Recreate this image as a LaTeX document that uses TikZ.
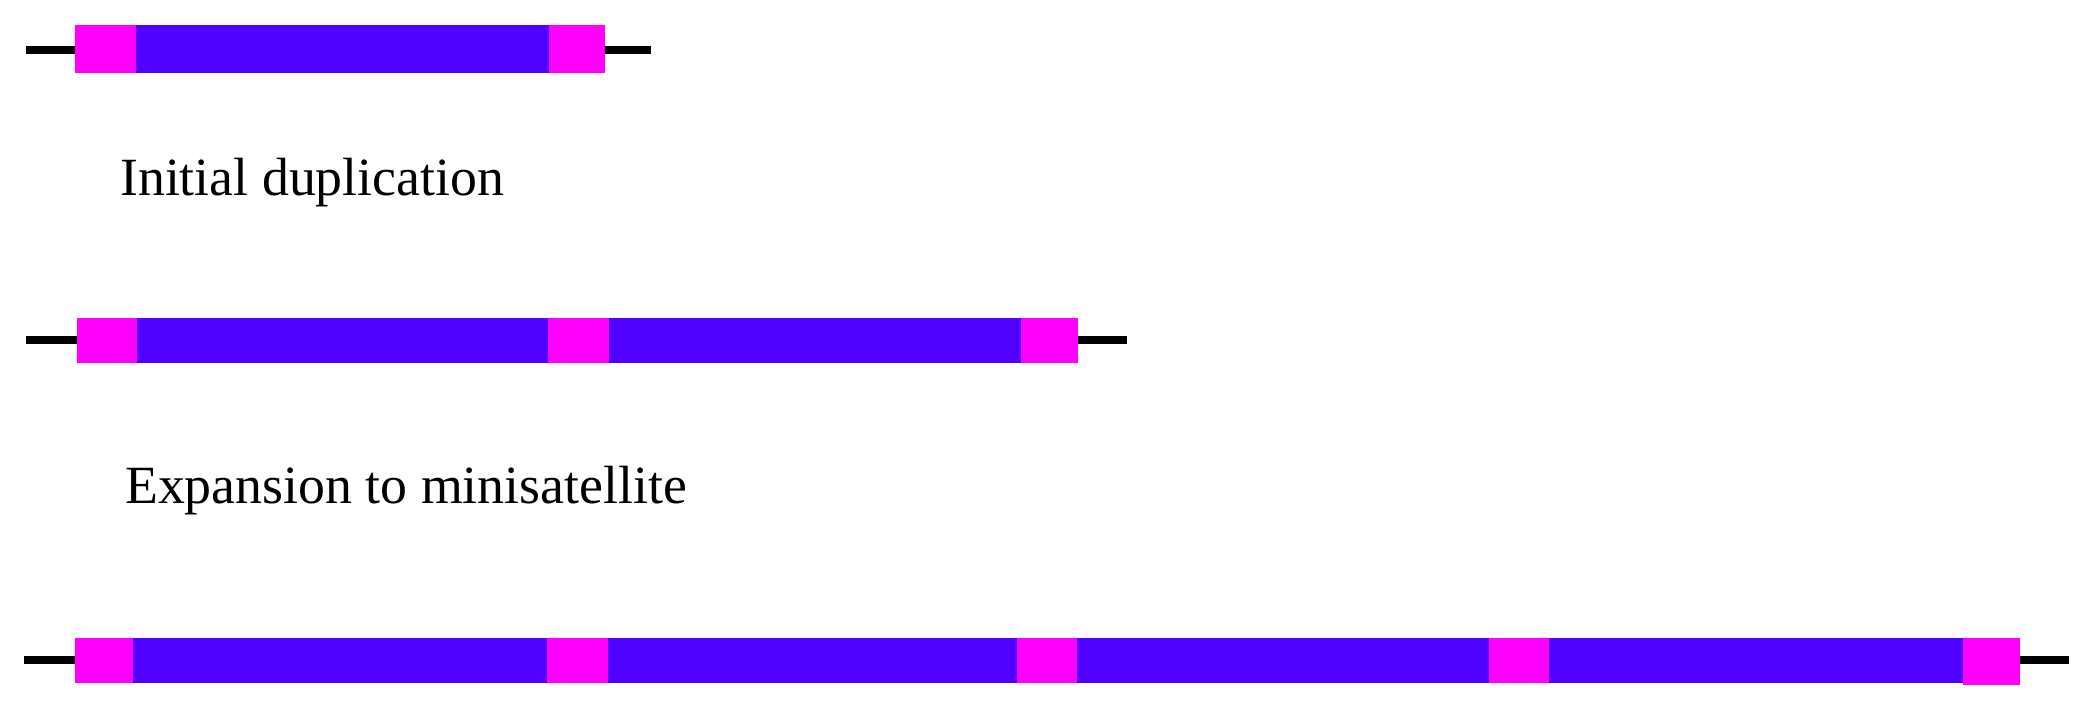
\documentclass[tikz,border=0pt]{standalone}
\usepackage{fontspec}
\setmainfont{Liberation Serif}
\definecolor{flank}{RGB}{255,0,255}
\definecolor{unit}{RGB}{80,0,255}
\tikzset{
  x=1pt, y=-1pt,
  dnaline/.style={line width=8pt, black},
  pinkbox/.style={fill=flank},
  bluebox/.style={fill=unit},
  lbl/.style={anchor=base west, inner sep=0pt, font=\fontsize{53.8}{60}\selectfont}
}
\begin{document}
\begin{tikzpicture}
\useasboundingbox (0,0) rectangle (2091,711);
% Row 1
\draw[dnaline] (26,50) -- (651,50);
\fill[pinkbox] (75,25) rectangle (136,73);
\fill[bluebox] (136,25) rectangle (549,73);
\fill[pinkbox] (549,25) rectangle (605,73);
\node[lbl] (t1) at (120,196) {Initial duplication};
% Row 2
\draw[dnaline] (26,340) -- (1127,340);
\fill[pinkbox] (77,318) rectangle (137,363);
\fill[bluebox] (137,318) rectangle (548,363);
\fill[pinkbox] (548,318) rectangle (609,363);
\fill[bluebox] (609,318) rectangle (1021,363);
\fill[pinkbox] (1021,318) rectangle (1078,363);
\node[lbl] (t2) at (125,503) {Expansion to minisatellite};
% Row 3
\draw[dnaline] (24,660) -- (2069,660);
\fill[pinkbox] (75,638) rectangle (133,683);
\fill[bluebox] (133,638) rectangle (547,683);
\fill[pinkbox] (547,638) rectangle (608,683);
\fill[bluebox] (608,638) rectangle (1017,683);
\fill[pinkbox] (1017,638) rectangle (1077,683);
\fill[bluebox] (1077,638) rectangle (1489,683);
\fill[pinkbox] (1489,638) rectangle (1549,683);
\fill[bluebox] (1549,638) rectangle (1963,683);
\fill[pinkbox] (1963,638) rectangle (2020,685);
\end{tikzpicture}
\end{document}
